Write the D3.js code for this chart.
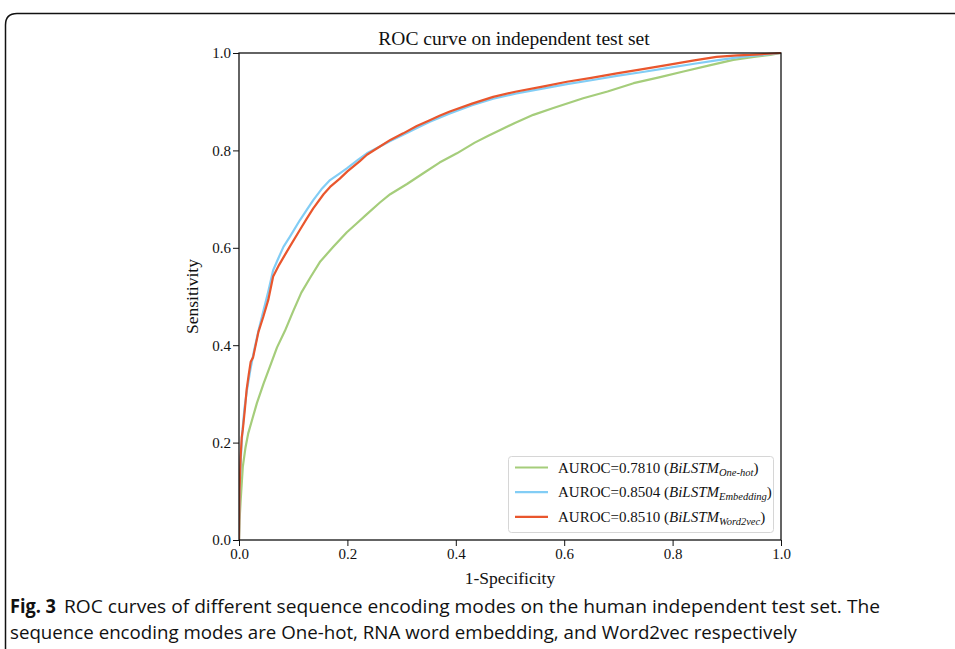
<!DOCTYPE html>
<html><head><meta charset="utf-8">
<script src="https://cdn.jsdelivr.net/npm/d3@7"></script>
<style>html,body{margin:0;padding:0;background:#fff;}svg{display:block;}</style>
</head><body>
<svg id="chart" width="955" height="649"></svg>
<script>
const title = "ROC curve on independent test set";
const xLabel = "1-Specificity";
const yLabel = "Sensitivity";
const xTicks = [0.0, 0.2, 0.4, 0.6, 0.8, 1.0];
const yTicks = [0.0, 0.2, 0.4, 0.6, 0.8, 1.0];

const seriesNames = ["One-hot", "Embedding", "Word2vec"];
const seriesAuc = ["0.7810", "0.8504", "0.8510"];
const seriesColors = ["#a5cd7b", "#82cdf5", "#e9562d"];

const fprOneHot = [0, 0.001, 0.003, 0.007, 0.012, 0.017, 0.025, 0.033, 0.045, 0.057, 0.07, 0.085, 0.1, 0.115, 0.131, 0.15, 0.174, 0.199, 0.217, 0.235, 0.26, 0.279, 0.31, 0.34, 0.37, 0.402, 0.435, 0.46, 0.482, 0.51, 0.543, 0.58, 0.635, 0.68, 0.728, 0.775, 0.82, 0.87, 0.912, 0.95, 0.98, 1.0];
const tprOneHot = [0, 0.04, 0.08, 0.15, 0.19, 0.219, 0.25, 0.281, 0.32, 0.356, 0.395, 0.43, 0.47, 0.508, 0.538, 0.572, 0.602, 0.632, 0.65, 0.668, 0.693, 0.71, 0.731, 0.753, 0.775, 0.794, 0.816, 0.83, 0.842, 0.857, 0.873, 0.887, 0.907, 0.921, 0.938, 0.95, 0.962, 0.975, 0.986, 0.992, 0.996, 1.0];

const fprEmbedding = [0, 0.001, 0.003, 0.006, 0.01, 0.015, 0.021, 0.028, 0.036, 0.045, 0.054, 0.063, 0.072, 0.082, 0.094, 0.1125, 0.125, 0.137, 0.152, 0.168, 0.186, 0.199, 0.22, 0.236, 0.26, 0.28, 0.303, 0.33, 0.352, 0.389, 0.43, 0.469, 0.512, 0.56, 0.605, 0.65, 0.697, 0.745, 0.789, 0.84, 0.881, 0.92, 0.955, 0.985, 1.0];
const tprEmbedding = [0, 0.09, 0.16, 0.22, 0.27, 0.31, 0.35, 0.39, 0.43, 0.47, 0.51, 0.554, 0.577, 0.602, 0.623, 0.657, 0.678, 0.698, 0.72, 0.739, 0.753, 0.763, 0.781, 0.794, 0.808, 0.82, 0.832, 0.847, 0.859, 0.876, 0.893, 0.906, 0.917, 0.927, 0.936, 0.944, 0.953, 0.961, 0.969, 0.978, 0.985, 0.991, 0.995, 0.998, 1.0];

const fprWord2vec = [0, 0.001, 0.003, 0.005, 0.007, 0.011, 0.014, 0.018, 0.0216, 0.026, 0.036, 0.045, 0.054, 0.063, 0.074, 0.085, 0.094, 0.1125, 0.125, 0.137, 0.156, 0.168, 0.186, 0.2, 0.223, 0.236, 0.26, 0.28, 0.303, 0.328, 0.352, 0.37, 0.389, 0.43, 0.469, 0.512, 0.56, 0.605, 0.65, 0.697, 0.745, 0.789, 0.84, 0.881, 0.92, 0.943, 0.97, 1.0];
const tprWord2vec = [0, 0.1, 0.17, 0.21, 0.226, 0.27, 0.308, 0.34, 0.366, 0.375, 0.428, 0.459, 0.493, 0.541, 0.565, 0.586, 0.603, 0.637, 0.66, 0.681, 0.71, 0.725, 0.742, 0.757, 0.778, 0.791, 0.808, 0.822, 0.835, 0.85, 0.862, 0.871, 0.88, 0.896, 0.91, 0.921, 0.931, 0.941, 0.949, 0.958, 0.967, 0.975, 0.985, 0.992, 0.995, 0.996, 0.998, 1.0];

const captionBold = "Fig. 3";
const captionLine1 = "ROC curves of different sequence encoding modes on the human independent test set. The";
const captionLine2 = "sequence encoding modes are One-hot, RNA word embedding, and Word2vec respectively";

const series = [
  {fpr: fprOneHot, tpr: tprOneHot},
  {fpr: fprEmbedding, tpr: tprEmbedding},
  {fpr: fprWord2vec, tpr: tprWord2vec}
];

const svg = d3.select("#chart");
const serif = "'Liberation Serif','DejaVu Serif',serif";
const sans = "'Liberation Sans Narrow','Open Sans','Noto Sans',sans-serif";

// outer frame
svg.append("path")
  .attr("d", "M5.5,649 L5.5,25 Q5.5,13.5 17,13.5 L955,13.5")
  .attr("fill", "none").attr("stroke", "#111").attr("stroke-width", 1.5);

const pL = 239, pR = 781, pT = 53, pB = 540;
const x = d3.scaleLinear().domain([0, 1]).range([pL, pR]);
const y = d3.scaleLinear().domain([0, 1]).range([pB, pT]);

// title
svg.append("text").attr("x", (pL + pR) / 2 + 4).attr("y", 45)
  .attr("text-anchor", "middle").attr("font-family", serif).attr("font-size", 19.5)
  .attr("fill", "#111").text(title);

// curves
const line = d3.line().x(d => x(d[0])).y(d => y(d[1]));
svg.append("clipPath").attr("id", "plotclip").append("rect")
  .attr("x", pL).attr("y", pT - 2).attr("width", pR - pL + 2).attr("height", pB - pT + 2);
series.forEach((s, i) => {
  const pts = s.fpr.map((f, j) => [f, s.tpr[j]]);
  svg.append("path").attr("d", line(pts))
    .attr("fill", "none").attr("stroke", seriesColors[i]).attr("stroke-width", 2.2)
    .attr("stroke-linejoin", "round").attr("clip-path", "url(#plotclip)");
});

// axes
const xAxis = svg.append("g").attr("transform", `translate(0,${pB})`)
  .call(d3.axisBottom(x).tickValues(xTicks).tickFormat(d3.format(".1f")).tickSize(6).tickPadding(2));
const yAxis = svg.append("g").attr("transform", `translate(${pL},0)`)
  .call(d3.axisLeft(y).tickValues(yTicks).tickFormat(d3.format(".1f")).tickSize(6).tickPadding(2));
[xAxis, yAxis].forEach(g => {
  g.attr("font-family", serif).attr("font-size", 15);
  g.select(".domain").remove();
  g.selectAll("line").attr("stroke", "#111").attr("stroke-width", 1);
  g.selectAll("text").attr("fill", "#111");
});
// spines
svg.append("rect").attr("x", pL).attr("y", pT).attr("width", pR - pL).attr("height", pB - pT)
  .attr("fill", "none").attr("stroke", "#111").attr("stroke-width", 1.3);

// axis labels
svg.append("text").attr("x", (pL + pR) / 2).attr("y", 584)
  .attr("text-anchor", "middle").attr("font-family", serif).attr("font-size", 17.5)
  .attr("fill", "#111").text(xLabel);
svg.append("text").attr("transform", `translate(198,${(pT + pB) / 2}) rotate(-90)`)
  .attr("text-anchor", "middle").attr("font-family", serif).attr("font-size", 17.5)
  .attr("fill", "#111").text(yLabel);

// legend
const lg = svg.append("g");
lg.append("rect").attr("x", 508.5).attr("y", 456.5).attr("width", 265).attr("height", 76)
  .attr("rx", 3).attr("fill", "#fff").attr("fill-opacity", 0.85)
  .attr("stroke", "#d6d6d6").attr("stroke-width", 1);
seriesNames.forEach((name, i) => {
  const ly = 467.5 + i * 24.7;
  lg.append("line").attr("x1", 515).attr("x2", 548).attr("y1", ly).attr("y2", ly)
    .attr("stroke", seriesColors[i]).attr("stroke-width", 2.2);
  const t = lg.append("text").attr("x", 558).attr("y", ly + 5)
    .attr("font-family", serif).attr("font-size", 15).attr("fill", "#111");
  t.append("tspan").text(`AUROC=${seriesAuc[i]} (`);
  t.append("tspan").attr("font-style", "italic").text("BiLSTM");
  t.append("tspan").attr("font-style", "italic").attr("font-size", 10.5).attr("dy", 3).text(name);
  t.append("tspan").attr("dy", -3).text(")");
});

// caption
svg.append("text").attr("x", 10).attr("y", 613).attr("font-family", sans)
  .attr("font-weight", "bold").attr("font-size", 19).attr("fill", "#111")
  .attr("textLength", 46).attr("lengthAdjust", "spacingAndGlyphs").text(captionBold);
svg.append("text").attr("x", 64).attr("y", 613).attr("font-family", sans)
  .attr("font-size", 19).attr("fill", "#111")
  .attr("textLength", 816).attr("lengthAdjust", "spacingAndGlyphs").text(captionLine1);
svg.append("text").attr("x", 10).attr("y", 639).attr("font-family", sans)
  .attr("font-size", 19).attr("fill", "#111")
  .attr("textLength", 787).attr("lengthAdjust", "spacingAndGlyphs").text(captionLine2);
</script>
</body></html>
